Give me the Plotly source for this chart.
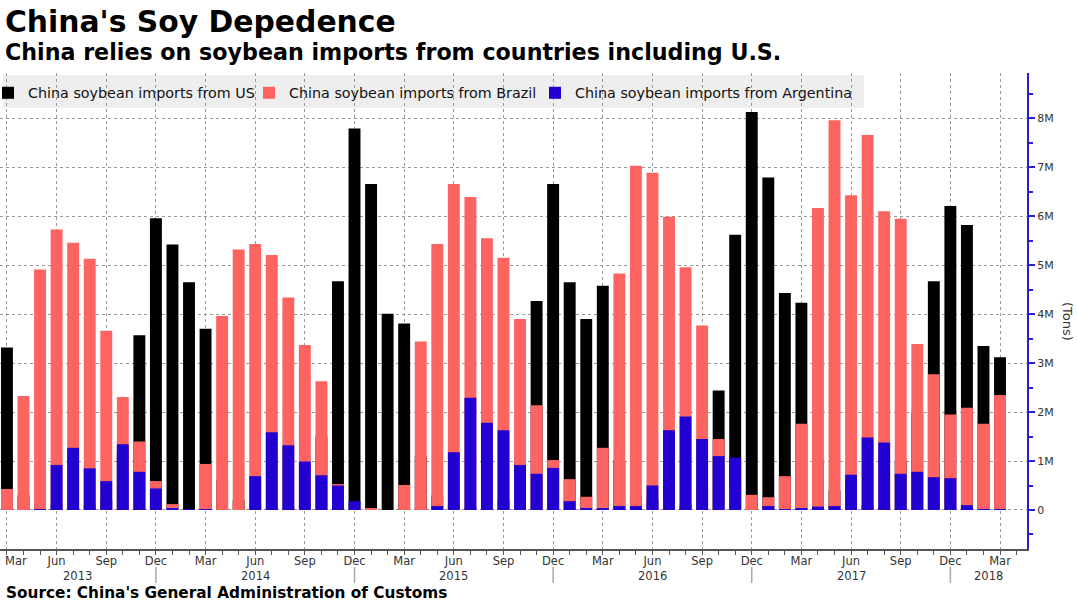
import plotly.graph_objects as go

# Months Mar 2013 .. Mar 2018 (61 months)
month_names = ["Jan", "Feb", "Mar", "Apr", "May", "Jun", "Jul", "Aug", "Sep", "Oct", "Nov", "Dec"]
start_year, start_month = 2013, 3
n_months = 61

# Imports, million tons
us_imports = [3.32, 0.30, 0.15, 0.10, 0.05, 0.10, 0.20, 1.20, 3.57, 5.96,
              5.42, 4.65, 3.70, 0.60, 0.20, 0.10, 0.05, 0.05, 0.10, 1.50, 4.67, 7.79,
              6.66, 4.01, 3.81, 1.10, 0.30, 0.10, 0.05, 0.05, 0.20, 1.00, 4.27, 6.66,
              4.65, 3.90, 4.58, 1.00, 0.30, 0.20, 0.10, 0.10, 0.50, 2.44, 5.62, 8.13,
              6.79, 4.43, 4.23, 1.00, 0.40, 0.20, 0.10, 0.10, 1.00, 2.00, 4.67, 6.21,
              5.82, 3.35, 3.12]
brazil_imports = [0.43, 2.33, 4.91, 5.73, 5.46, 5.13, 3.66, 2.31, 1.40, 0.59,
                  0.12, 0.00, 0.94, 3.96, 5.32, 5.43, 5.21, 4.34, 3.37, 2.63, 0.53, 0.02,
                  0.04, 0.00, 0.51, 3.44, 5.43, 6.66, 6.39, 5.55, 5.15, 3.90, 2.14, 1.02,
                  0.63, 0.27, 1.27, 4.83, 7.03, 6.89, 5.99, 4.96, 3.77, 1.45, 0.50, 0.31,
                  0.26, 0.69, 1.76, 6.17, 7.96, 6.43, 7.66, 6.10, 5.95, 3.39, 2.77, 1.95,
                  2.09, 1.76, 2.35]
argentina_imports = [0.00, 0.00, 0.01, 0.92, 1.27, 0.85, 0.59, 1.34, 0.78, 0.44,
                     0.03, 0.01, 0.01, 0.00, 0.00, 0.69, 1.59, 1.32, 0.99, 0.71, 0.50, 0.18,
                     0.00, 0.00, 0.00, 0.00, 0.08, 1.18, 2.29, 1.78, 1.63, 0.92, 0.74, 0.86,
                     0.18, 0.04, 0.04, 0.08, 0.08, 0.50, 1.63, 1.91, 1.45, 1.10, 1.07, 0.00,
                     0.08, 0.01, 0.03, 0.07, 0.08, 0.72, 1.48, 1.38, 0.74, 0.78, 0.67, 0.65,
                     0.10, 0.01, 0.01]

series_names = ["China soybean imports from US",
                "China soybean imports from Brazil",
                "China soybean imports from Argentina"]
series_colors = ["#000000", "#fd6461", "#2300d2"]

y_tick_vals = [0, 1, 2, 3, 4, 5, 6, 7, 8]
y_tick_text = ["0", "1M", "2M", "3M", "4M", "5M", "6M", "7M", "8M"]

# derived month info
months = []
for i in range(n_months):
    m0 = start_month - 1 + i
    months.append((start_year + m0 // 12, m0 % 12))
x_idx = list(range(n_months))
major_idx = [i for i, (y, m) in enumerate(months) if m in (2, 5, 8, 11)]
major_txt = [month_names[months[i][1]] for i in major_idx]
first_label = major_txt[0]
major_txt[0] = ""   # first label is drawn as an annotation, nudged inside the page edge
dec_idx = [i for i, (y, m) in enumerate(months) if m == 11]

x_lo, x_hi = -0.42, 61.63
y_lo, y_hi = -0.797, 8.925

FONT = "DejaVu Sans"
PLOT_W, PLOT_H, PLOT_TOP = 1027, 476, 73
def py(p):
    return (PLOT_TOP + PLOT_H - p) / PLOT_H
def px(p):
    return p / PLOT_W

legend_ids = ["legend", "legend2", "legend3"]
legend_left_px = [-12, 249, 535]

fig = go.Figure()
for vals, name, col, lg in zip([us_imports, brazil_imports, argentina_imports], series_names, series_colors, legend_ids):
    fig.add_trace(go.Bar(x=x_idx, y=vals, name=name, marker=dict(color=col, line=dict(width=0)),
                         width=0.72, legend=lg))

legend_common = dict(orientation="h", yanchor="top", xanchor="left", y=py(77),
                     bgcolor="rgba(0,0,0,0)", font=dict(size=14.3, color="#111", family=FONT), itemwidth=30)

fig.update_layout(
    width=1077, height=605,
    margin=dict(l=0, r=50, t=73, b=56, autoexpand=False),
    paper_bgcolor="white", plot_bgcolor="white",
    barmode="overlay",
    font=dict(family=FONT, size=11, color="#222"),
    showlegend=True,
    legend=dict(x=px(legend_left_px[0]), **legend_common),
    legend2=dict(x=px(legend_left_px[1]), **legend_common),
    legend3=dict(x=px(legend_left_px[2]), **legend_common),
    xaxis=dict(range=[x_lo, x_hi], tickmode="array", tickvals=major_idx, ticktext=major_txt,
               showgrid=True, gridcolor="#999", griddash="dot", gridwidth=1,
               showline=True, linecolor="#555", linewidth=1.5,
               ticks="outside", ticklen=4, tickcolor="#555", automargin=False,
               ticklabelstandoff=-4,
               minor=dict(dtick=1, tick0=0, ticks="outside", ticklen=4, tickcolor="#555", showgrid=False),
               tickfont=dict(size=11.5, color="#333"), zeroline=False, fixedrange=True),
    yaxis=dict(range=[y_lo, y_hi], side="right", tickmode="array", tickvals=y_tick_vals, ticktext=y_tick_text,
               showgrid=True, gridcolor="#999", griddash="dot", gridwidth=1,
               showline=True, linecolor="#2a1fd0", linewidth=2,
               ticks="outside", ticklen=6, tickwidth=2, tickcolor="#2a1fd0", automargin=False,
               minor=dict(dtick=0.5, tick0=0, ticks="outside", ticklen=4, tickcolor="#2a1fd0", showgrid=False),
               tickfont=dict(size=11, color="#333"), zeroline=False, fixedrange=True),
)

ann = []
ann.append(dict(text="<b>China's Soy Depedence</b>", xref="paper", yref="paper", x=px(3), y=py(22),
                xanchor="left", yanchor="middle", showarrow=False, font=dict(size=29.8, color="#000", family=FONT)))
ann.append(dict(text="<b>China relies on soybean imports from countries including U.S.</b>", xref="paper", yref="paper",
                x=px(3), y=py(52), xanchor="left", yanchor="middle", showarrow=False,
                font=dict(size=22.2, color="#000", family=FONT)))
ann.append(dict(text="<b>Source: China's General Administration of Customs</b>", xref="paper", yref="paper",
                x=px(4), y=py(593), xanchor="left", yanchor="middle", showarrow=False,
                font=dict(size=15.3, color="#000", family=FONT)))
ann.append(dict(text="(Tons)", xref="paper", yref="paper", x=px(1068), y=py(321), textangle=90,
                xanchor="center", yanchor="middle", showarrow=False, font=dict(size=13, color="#333", family=FONT)))
ann.append(dict(text=first_label, xref="x", yref="paper", x=major_idx[0], xshift=-4, y=py(561),
                xanchor="left", yanchor="middle", showarrow=False, font=dict(size=11.5, color="#333")))

# year labels centred between year separators
bounds = [x_lo] + dec_idx + [x_hi]
years = sorted(set(y for y, m in months))
for k, yr in enumerate(years):
    ann.append(dict(text=str(yr), xref="x", yref="paper", x=(bounds[k] + bounds[k + 1]) / 2, y=py(576),
                    xanchor="center", yanchor="middle", showarrow=False, font=dict(size=11.5, color="#333")))
fig.update_layout(annotations=ann)

# legend background band and year separators
fig.add_shape(type="rect", xref="paper", yref="paper", x0=px(3), x1=px(864), y0=py(75), y1=py(108),
              fillcolor="rgba(236,236,236,0.9)", line=dict(width=0), layer="below")
for d in dec_idx:
    fig.add_shape(type="line", xref="x", yref="paper", x0=d, x1=d, y0=py(567), y1=py(583),
                  line=dict(color="#aaa", width=1.5))

fig.write_html("out.html", config={"displayModeBar": False},
               post_script="document.body.style.margin='0';document.body.style.padding='0';")
